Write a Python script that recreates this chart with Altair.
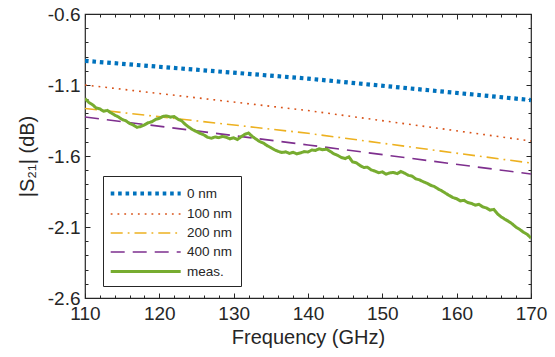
import altair as alt
import pandas as pd

# ---------------- data ----------------
series_order = ["0 nm", "100 nm", "200 nm", "400 nm", "meas."]
series_colors = ["#0072BD", "#D95319", "#EDB120", "#7E2F8E", "#77AC30"]

sim_freq = [110, 140, 170]
sim_0nm = [-0.930, -1.055, -1.206]
sim_100nm = [-1.100, -1.280, -1.494]
sim_200nm = [-1.265, -1.440, -1.650]
sim_400nm = [-1.325, -1.522, -1.727]

meas_freq = [110 + 0.5 * i for i in range(121)]
meas_val = [
    -1.195, -1.222, -1.238, -1.262, -1.268, -1.285, -1.279, -1.296, -1.312, -1.325,
    -1.343, -1.352, -1.371, -1.382, -1.398, -1.392, -1.381, -1.366, -1.359, -1.342,
    -1.335, -1.321, -1.318, -1.326, -1.322, -1.341, -1.352, -1.378, -1.398, -1.415,
    -1.428, -1.441, -1.452, -1.468, -1.475, -1.466, -1.471, -1.462, -1.468, -1.479,
    -1.472, -1.484, -1.465, -1.447, -1.438, -1.462, -1.481, -1.498, -1.509, -1.527,
    -1.541, -1.556, -1.568, -1.575, -1.571, -1.582, -1.574, -1.585, -1.578, -1.569,
    -1.572, -1.558, -1.561, -1.549, -1.556, -1.551, -1.568, -1.585, -1.596, -1.611,
    -1.618, -1.606, -1.642, -1.648, -1.667, -1.681, -1.679, -1.698, -1.706, -1.718,
    -1.712, -1.728, -1.719, -1.716, -1.724, -1.709, -1.721, -1.736, -1.742, -1.761,
    -1.768, -1.781, -1.792, -1.806, -1.815, -1.832, -1.845, -1.862, -1.878, -1.893,
    -1.901, -1.916, -1.912, -1.928, -1.934, -1.946, -1.941, -1.958, -1.966, -1.981,
    -1.976, -2.008, -2.029, -2.046, -2.061, -2.079, -2.102, -2.118, -2.137, -2.152,
    -2.178,
]

x_major = [110, 120, 130, 140, 150, 160, 170]
x_minor = [110 + 2 * i for i in range(31)]
y_major = [-0.6, -1.1, -1.6, -2.1, -2.6]
y_minor = [round(-0.6 - 0.1 * i, 1) for i in range(21)]

# ---------------- table ----------------
rows = []
for name, vals in zip(series_order[:4], [sim_0nm, sim_100nm, sim_200nm, sim_400nm]):
    for f, v in zip(sim_freq, vals):
        rows.append({"freq": f, "val": v, "series": name})
for f, v in zip(meas_freq, meas_val):
    rows.append({"freq": f, "val": v, "series": "meas."})
df = pd.DataFrame(rows)

TXT = "#262626"
FONT = "Liberation Sans"
xs = alt.Scale(domain=[110, 170], nice=False)
ys = alt.Scale(domain=[-2.6, -0.6], nice=False)

dash_range = [[3.6, 3.83], [1.8, 5], [12, 5, 1.8, 5], [14, 8], [1, 0]]
width_range = [4.2, 1.6, 1.6, 1.6, 3]

legend = alt.Legend(
    orient="none", legendX=18, legendY=162, title=None,
    symbolType="M-1.4,0H8.6", symbolSize=196, labelFontSize=13.5,
    labelFont=FONT, labelColor=TXT, labelOffset=57,
    labelExpr="datum.label + '   '",
    padding=8, strokeColor=TXT, fillColor="white", rowPadding=4,
    symbolFillColor="transparent",
)

main = alt.Chart(df).mark_line(clip=True).encode(
    x=alt.X("freq:Q", scale=xs, axis=alt.Axis(
        orient="bottom", values=x_major, ticks=False, domain=False, grid=False,
        labelFontSize=19, labelFont=FONT, labelColor=TXT, labelPadding=6,
        title="Frequency (GHz)", titleFontSize=20, titleFont=FONT, titleColor=TXT,
        titleFontWeight="normal", titlePadding=4, labelFlush=False)),
    y=alt.Y("val:Q", scale=ys, axis=alt.Axis(
        orient="left", values=y_major, ticks=False, domain=False, grid=False,
        labelExpr="toString(datum.value)",
        labelFontSize=19, labelFont=FONT, labelColor=TXT, labelPadding=5,
        title="|S₂₁| (dB)", titleFontSize=20, titleFont=FONT, titleColor=TXT,
        titleFontWeight="normal", titlePadding=10, labelFlush=False)),
    color=alt.Color("series:O", scale=alt.Scale(domain=series_order, range=series_colors),
                    sort=series_order, legend=legend),
    strokeDash=alt.StrokeDash("series:O", scale=alt.Scale(domain=series_order, range=dash_range),
                              sort=series_order, legend=legend),
    strokeWidth=alt.StrokeWidth("series:O", scale=alt.Scale(type="ordinal", domain=series_order,
                                                            range=width_range),
                                sort=series_order, legend=legend),
    detail="series:N",
)


def tick_layer(xorient, yorient, xvals, yvals, size):
    return alt.Chart(df).mark_line(strokeOpacity=0).encode(
        x=alt.X("freq:Q", scale=xs, axis=alt.Axis(
            orient=xorient, values=xvals, labels=False, title=None, domain=False,
            grid=False, tickSize=size, offset=-size, tickColor=TXT, tickWidth=1)),
        y=alt.Y("val:Q", scale=ys, axis=alt.Axis(
            orient=yorient, values=yvals, labels=False, title=None, domain=False,
            grid=False, tickSize=size, offset=-size, tickColor=TXT, tickWidth=1)),
        detail="series:N",
    )


chart = alt.layer(
    tick_layer("bottom", "left", x_minor, y_minor, 3),
    tick_layer("bottom", "left", x_major, y_major, 5),
    tick_layer("top", "right", x_minor, y_minor, 3),
    tick_layer("top", "right", x_major, y_major, 5),
    main,
).resolve_axis(x="independent", y="independent").properties(
    width=446, height=284,
    autosize=alt.AutoSizeParams(type="none"),
    padding={"left": 85, "top": 14, "right": 24, "bottom": 59},
    background="white",
).configure_view(stroke=TXT, strokeWidth=1.2)

chart.save("out.html", embed_options={"renderer": "svg", "actions": False})
